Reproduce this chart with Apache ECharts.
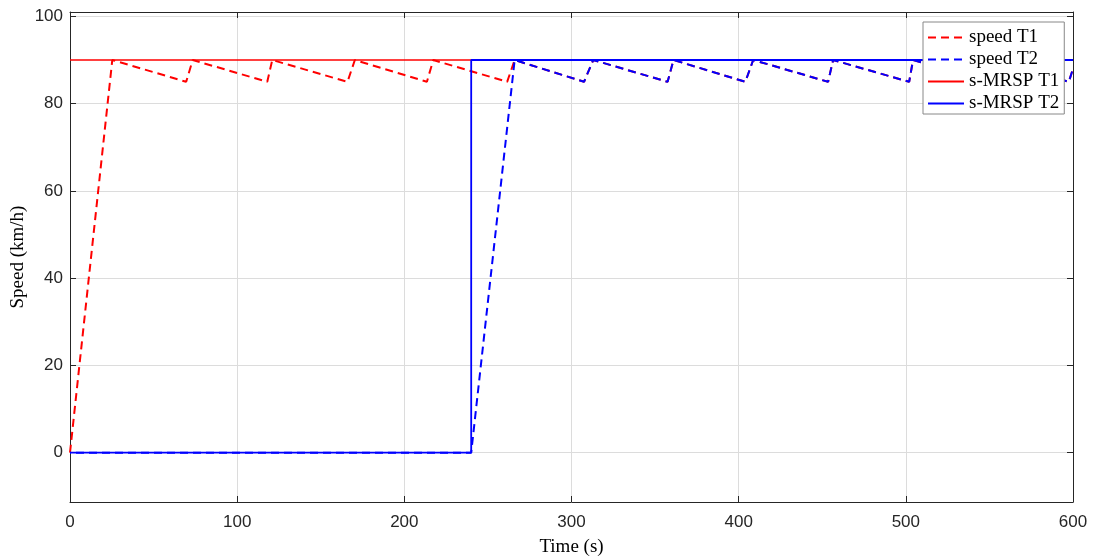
<!DOCTYPE html>
<html>
<head>
<meta charset="utf-8">
<script src="https://cdn.jsdelivr.net/npm/echarts@6/dist/echarts.min.js"></script>
<style>
  html, body { margin: 0; padding: 0; background: #fff; }
  #chart { width: 1093px; height: 556px; }
</style>
</head>
<body>
<div id="chart"></div>
<script>
// values: [time (s), speed (km/h)]
const speedT1 = [
  [0, 0], [25.3, 90], [69.5, 85], [73.4, 90], [118, 85], [121, 90],
  [166, 85], [170.4, 90], [213.5, 85], [217.3, 90], [261.5, 85], [266, 90],
  [307.5, 85], [313, 90], [357.5, 85], [361, 90], [404, 85], [408.7, 90],
  [453.5, 85], [456.5, 90], [502, 85], [504.3, 90], [550, 85], [553, 90],
  [597.5, 85], [600, 88]
];
const speedT2 = [
  [0, 0], [240, 0], [266, 90],
  [307.5, 85], [313, 90], [357.5, 85], [361, 90], [404, 85], [408.7, 90],
  [453.5, 85], [456.5, 90], [502, 85], [504.3, 90], [550, 85], [553, 90],
  [597.5, 85], [600, 88]
];
const mrspT1 = [[0, 90], [600, 90]];
const mrspT2 = [[0, 0], [240, 0], [240, 90], [600, 90]];

const seriesNames = ['speed T1', 'speed T2', 's-MRSP T1', 's-MRSP T2'];
const yTicks = [0, 20, 40, 60, 80, 100];

const chart = echarts.init(document.getElementById('chart'));

const axisCol = '#262626';
const gridCol = '#dcdcdc';
const sans = '"Liberation Sans", Arial, sans-serif';
const serif = '"Liberation Serif", "Times New Roman", serif';

function line(name, data, color, dashed, width, offset) {
  return {
    name: name,
    type: 'line',
    data: data,
    symbol: 'none',
    animation: false,
    lineStyle: { color: color, width: width, type: dashed ? [8, 5] : 'solid', dashOffset: offset || 0 },
    itemStyle: { color: color }
  };
}

const option = {
  backgroundColor: '#fff',
  animation: false,
  grid: { left: 70, right: 20, top: 12, bottom: 54, outerBoundsMode: 'none', containLabel: false },
  legend: {
    // speed T2 gets an offset dash on the plot so it lines up with T1; not in the legend
    data: seriesNames.map(n => n === 'speed T2' ? { name: n, lineStyle: { dashOffset: 0 } } : n),
    orient: 'vertical',
    left: 923,
    top: 22,
    padding: [6, 5, 1, 4],
    itemWidth: 36,
    itemHeight: 14,
    itemGap: 3,
    itemStyle: { opacity: 0 },
    backgroundColor: '#fff',
    borderColor: '#888',
    borderWidth: 1,
    borderRadius: 0,
    textStyle: { fontFamily: serif, fontSize: 19, color: '#000', padding: [0, 0, 0, 0] }
  },
  xAxis: [
    {
      type: 'value',
      min: 0,
      max: 600,
      interval: 100,
      name: 'Time (s)',
      nameLocation: 'middle',
      nameGap: 36,
      nameMoveOverlap: false,
      nameTextStyle: { fontFamily: serif, fontSize: 19, color: '#000' },
      axisLine: { show: true, onZero: false, lineStyle: { color: axisCol } },
      axisTick: { show: true, inside: true, length: 6, lineStyle: { color: axisCol } },
      axisLabel: { fontFamily: sans, fontSize: 17, color: axisCol, margin: 12 },
      splitLine: { show: true, lineStyle: { color: gridCol, width: 1 } }
    },
    {
      type: 'value',
      position: 'top',
      min: 0,
      max: 600,
      interval: 100,
      axisLine: { show: true, onZero: false, lineStyle: { color: axisCol } },
      axisTick: { show: true, inside: true, length: 6, lineStyle: { color: axisCol } },
      axisLabel: { show: false },
      splitLine: { show: false }
    }
  ],
  yAxis: [
    {
      type: 'value',
      min: -11.3,
      max: 101,
      name: 'Speed (km/h)',
      nameLocation: 'middle',
      nameGap: 42,
      nameMoveOverlap: false,
      nameTextStyle: { fontFamily: serif, fontSize: 19, color: '#000' },
      axisLine: { show: true, onZero: false, lineStyle: { color: axisCol } },
      axisTick: { show: true, inside: true, length: 6, customValues: yTicks, lineStyle: { color: axisCol } },
      axisLabel: { fontFamily: sans, fontSize: 17, color: axisCol, margin: 7, customValues: yTicks },
      splitLine: { show: true, lineStyle: { color: gridCol, width: 1 } }
    },
    {
      type: 'value',
      position: 'right',
      min: -11.3,
      max: 101,
      axisLine: { show: true, onZero: false, lineStyle: { color: axisCol } },
      axisTick: { show: true, inside: true, length: 6, customValues: yTicks, lineStyle: { color: axisCol } },
      axisLabel: { show: false, customValues: yTicks },
      splitLine: { show: false }
    }
  ],
  series: [
    line(seriesNames[0], speedT1, '#ff0000', true, 2),
    line(seriesNames[1], speedT2, '#0000ff', true, 2, 7),
    line(seriesNames[2], mrspT1, '#ff0000', false, 1.5),
    line(seriesNames[3], mrspT2, '#0000ff', false, 1.8)
  ]
};

chart.setOption(option);
</script>
</body>
</html>
